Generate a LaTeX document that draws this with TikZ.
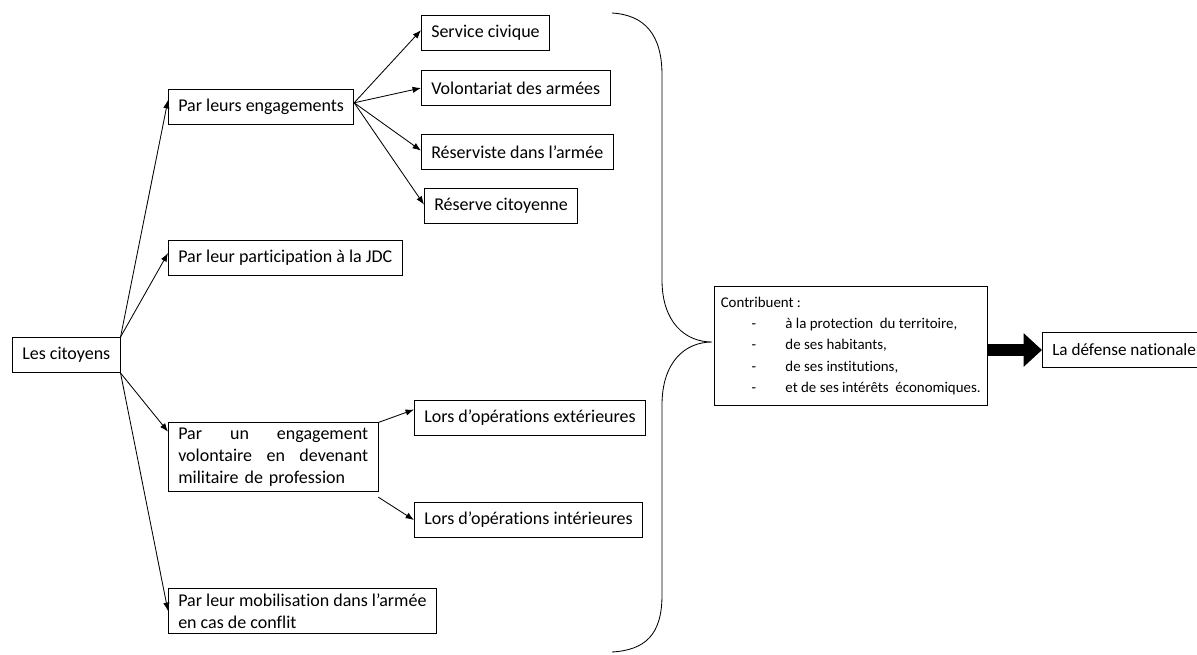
\documentclass[tikz,border=0pt]{standalone}
\usepackage{fontspec}
\setmainfont{Carlito}[Ligatures={NoCommon}]
\usetikzlibrary{arrows,arrows.meta,positioning}
\newcommand{\tiret}{\makebox[46pt][l]{\hspace{22pt}-}}

\begin{document}
\begin{tikzpicture}[x=0.025cm,y=-0.025cm,
  box/.style={draw=black,line width=0.6pt,anchor=west,minimum height=25pt,
    inner xsep=7pt,font=\fontsize{12.8}{15.8}\selectfont},
  >={Latex[length=6pt,width=4.5pt]}]
% \draw[help lines] (0,0) grid (1197,654);
\useasboundingbox (0,0) rectangle (1197,654);
\node (cit) [box] at (12,355) {Les citoyens};
\node (eng) [box] at (168,107) {Par leurs engagements};
\node (jdc) [box] at (168,258) {Par leur participation à la JDC};
\node (pro) [box,text width=135pt,align=left] at (168,457)
  {Par\hfill un\hfill engagement\\volontaire\hfill en\hfill devenant\\militaire de profession};
\node (mob) [box,align=left] at (168,611) {Par leur mobilisation dans l’armée\\en cas de conflit};
%
\node (sc) [box] at (421,33) {Service civique};
\node (vol) [box] at (421,88) {Volontariat des armées};
\node (res) [box] at (421,152) {Réserviste dans l’armée};
\node (rc) [box] at (424,206) {Réserve citoyenne};
\node (ext) [box] at (414,418) {Lors d’opérations extérieures};
\node (int) [box] at (414,520) {Lors d’opérations intérieures};
%
\node (contrib) [box,align=left,inner xsep=4.5pt,inner ysep=8pt,
  font=\fontsize{10.6}{15}\selectfont] at (714,346)
  {Contribuent~:\\
   \tiret à la protection~ du territoire,\\
   \tiret de ses habitants,\\
   \tiret de ses institutions,\\
   \tiret et de ses intérêts~ économiques.};
\node (def) [box,minimum width=112pt,align=left,
  font=\fontsize{12.2}{15}\selectfont] at (1042,350) {La défense nationale};
\coordinate (tip) at (712,342);
%
\path[->,line width=0.6pt](cit.north east) edge ([yshift=5pt]eng.west);
\path[->,line width=0.6pt](cit.north east) edge ([yshift=3.5pt]jdc.west);
\path[->,line width=0.6pt](cit.south east) edge ([yshift=18pt]pro.west);
\path[->,line width=0.6pt](cit.south east) edge (mob.west);
\path[->,line width=0.6pt]([yshift=3pt]eng.east) edge ([yshift=2pt]sc.west);
\path[->,line width=0.6pt]([yshift=3pt]eng.east) edge (vol.west);
\path[->,line width=0.6pt]([yshift=3pt]eng.east) edge ([yshift=1pt]rc.west);
\path[->,line width=0.6pt]([yshift=3pt]eng.east) edge ([yshift=1pt]res.west);
\path[->,line width=0.6pt](pro.north east) edge ([yshift=6pt]ext.west);
\path[->,line width=0.6pt]([yshift=-4pt]pro.south east) edge (int.west);
% accolade
\draw[line width=0.6pt] (612,13) .. controls (645,15) and (662,35) .. (662,75)
  -- (662,280) .. controls (662,322) and (685,342) .. (tip)
  .. controls (685,342) and (662,362) .. (662,405)
  -- (662,595) .. controls (662,635) and (645,650) .. (612,652);
\draw[line width=9pt,-{Triangle[length=13pt,width=23pt]}]
  (contrib.east |- def.west) -- (def.west);
\end{tikzpicture}
\end{document}
